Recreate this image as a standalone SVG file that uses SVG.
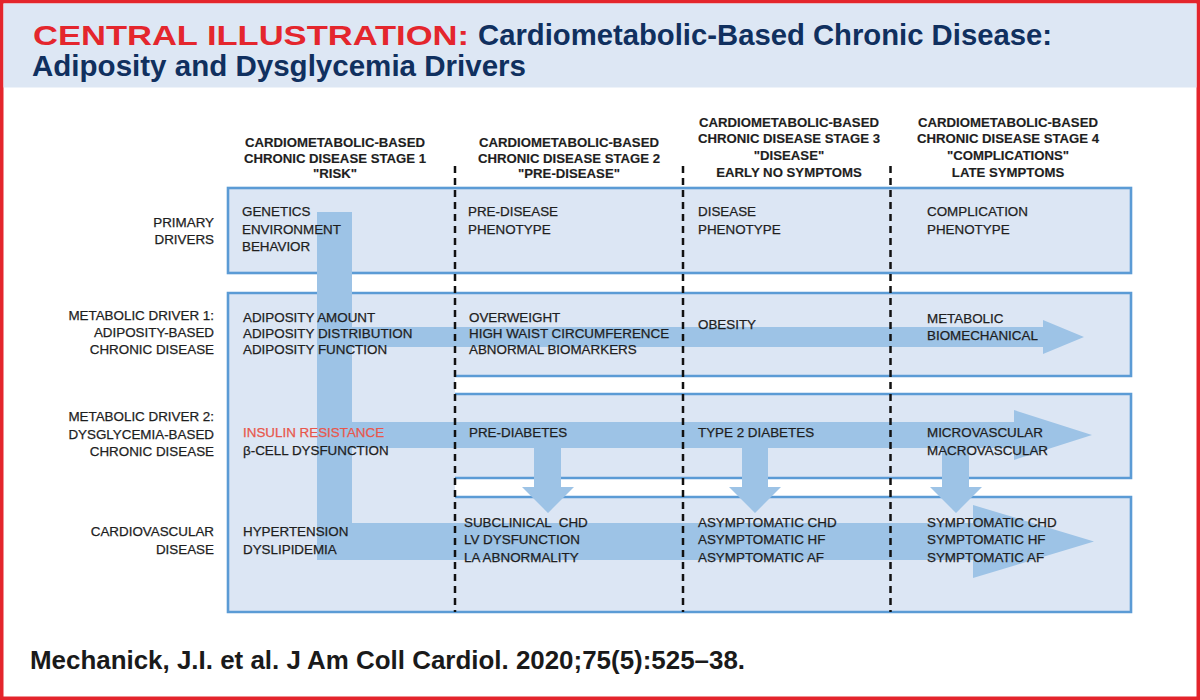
<svg xmlns="http://www.w3.org/2000/svg" width="1200" height="700" viewBox="0 0 1200 700">
  <defs>
    <style>
      .t { font-family: "Liberation Sans", Arial, sans-serif; font-size: 13.4px; fill: #1e1e1e; stroke: #1e1e1e; stroke-width: 0.25px; }
      .h { font-weight: bold; text-anchor: middle; font-size: 13.2px; stroke-width: 0.15px; }
      .side { text-anchor: end; }
      .red { fill: #e8574c; stroke: #e8574c; }
      .box { fill: #dce6f4; stroke: none; }
      .edge { fill: none; stroke: #5b9bd5; stroke-width: 2.6; }
      .arrow { fill: #9dc3e6; stroke: none; }
      .div { stroke: #111; stroke-width: 2.5; stroke-dasharray: 7 5; fill: none; }
      .ttl { font-family: "Liberation Sans", Arial, sans-serif; font-weight: bold; }
    </style>
  </defs>

  <!-- frame -->
  <rect x="1.75" y="1.75" width="1196.5" height="696.5" fill="#ffffff" stroke="#e4252c" stroke-width="3.5"/>

  <g id="title">
    <rect x="3.5" y="3.5" width="1193" height="84" fill="#dde7f4"/>
    <text class="ttl" x="33" y="45" font-size="28" fill="#e4262d" textLength="436" lengthAdjust="spacingAndGlyphs">CENTRAL ILLUSTRATION:</text>
    <text class="ttl" x="478" y="45" font-size="30" fill="#10305f" textLength="574" lengthAdjust="spacingAndGlyphs">Cardiometabolic-Based Chronic Disease:</text>
    <text class="ttl" x="32" y="75.5" font-size="30" fill="#10305f" textLength="494" lengthAdjust="spacingAndGlyphs">Adiposity and Dysglycemia Drivers</text>
  </g>

  <g id="stage-headers">
    <g id="stage-1">
      <text class="t h" x="335" y="146.7">CARDIOMETABOLIC-BASED</text>
      <text class="t h" x="335" y="162.5">CHRONIC DISEASE STAGE 1</text>
      <text class="t h" x="335" y="178">"RISK"</text>
    </g>
    <g id="stage-2">
      <text class="t h" x="569" y="146.7">CARDIOMETABOLIC-BASED</text>
      <text class="t h" x="569" y="162.5">CHRONIC DISEASE STAGE 2</text>
      <text class="t h" x="569" y="178">"PRE-DISEASE"</text>
    </g>
    <g id="stage-3">
      <text class="t h" x="789" y="126.5">CARDIOMETABOLIC-BASED</text>
      <text class="t h" x="789" y="143">CHRONIC DISEASE STAGE 3</text>
      <text class="t h" x="789" y="159.5">"DISEASE"</text>
      <text class="t h" x="789" y="176.5">EARLY NO SYMPTOMS</text>
    </g>
    <g id="stage-4">
      <text class="t h" x="1008" y="126.5">CARDIOMETABOLIC-BASED</text>
      <text class="t h" x="1008" y="143">CHRONIC DISEASE STAGE 4</text>
      <text class="t h" x="1008" y="159.5">"COMPLICATIONS"</text>
      <text class="t h" x="1008" y="176.5">LATE SYMPTOMS</text>
    </g>
  </g>

  <g id="row-labels">
    <g id="label-primary">
      <text class="t side" x="214" y="226.5">PRIMARY</text>
      <text class="t side" x="214" y="244">DRIVERS</text>
    </g>
    <g id="label-driver-1">
      <text class="t side" x="214" y="319.5">METABOLIC DRIVER 1:</text>
      <text class="t side" x="214" y="337">ADIPOSITY-BASED</text>
      <text class="t side" x="214" y="354">CHRONIC DISEASE</text>
    </g>
    <g id="label-driver-2">
      <text class="t side" x="214" y="420.5">METABOLIC DRIVER 2:</text>
      <text class="t side" x="214" y="438.5">DYSGLYCEMIA-BASED</text>
      <text class="t side" x="214" y="456">CHRONIC DISEASE</text>
    </g>
    <g id="label-cvd">
      <text class="t side" x="214" y="536">CARDIOVASCULAR</text>
      <text class="t side" x="214" y="554">DISEASE</text>
    </g>
  </g>

  <g id="boxes">
    <g id="box-primary">
      <rect class="box" x="228" y="188" width="903" height="85"/>
      <rect class="edge" x="228" y="188" width="903" height="85"/>
    </g>
    <g id="box-stage1-drivers">
      <rect class="box" x="228" y="293" width="227" height="319"/>
      <path class="edge" d="M455,293 H228 V612 H455"/>
    </g>
    <g id="box-adiposity">
      <rect class="box" x="455" y="293" width="676" height="83"/>
      <path class="edge" d="M455,293 H1131 V376 H455"/>
    </g>
    <g id="box-dysglycemia">
      <rect class="box" x="455" y="394" width="676" height="84"/>
      <path class="edge" d="M455,394 H1131 V478 H455"/>
    </g>
    <g id="box-cvd">
      <rect class="box" x="455" y="497" width="676" height="115"/>
      <path class="edge" d="M455,497 H1131 V612 H455"/>
    </g>
  </g>

  <g id="connectors">
    <path id="arrow-drivers-cvd" class="arrow" d="M317,212 H352 V523 H973 V505 L1094,541.5 L973,578 V560 H317 Z"/>
    <path id="arrow-adiposity" class="arrow" d="M340,327 H1043 V320 L1084,337 L1043,354 V347 H340 Z"/>
    <path id="arrow-dysglycemia" class="arrow" d="M340,422 H1014 V410 L1092,435 L1014,460 V448 H340 Z"/>
    <path id="arrow-down-1" class="arrow" d="M534,446 H561 V487 H574 L548,513 L522,487 H534 Z"/>
    <path id="arrow-down-2" class="arrow" d="M742,446 H768 V487 H781 L755,513 L729,487 H742 Z"/>
    <path id="arrow-down-3" class="arrow" d="M942,446 H969 V487 H982 L956,513 L930,487 H942 Z"/>
  </g>

  <g id="stage-dividers">
    <line class="div" x1="455" y1="166" x2="455" y2="612"/>
    <line class="div" x1="683" y1="166" x2="683" y2="612"/>
    <line class="div" x1="890.5" y1="166" x2="890.5" y2="612"/>
  </g>

  <g id="cells">
    <g id="cell-primary-1">
      <text class="t" x="242" y="216">GENETICS</text>
      <text class="t" x="242" y="233.5">ENVIRONMENT</text>
      <text class="t" x="242" y="251">BEHAVIOR</text>
    </g>
    <g id="cell-primary-2">
      <text class="t" x="468" y="216">PRE-DISEASE</text>
      <text class="t" x="468" y="233.5">PHENOTYPE</text>
    </g>
    <g id="cell-primary-3">
      <text class="t" x="698" y="216">DISEASE</text>
      <text class="t" x="698" y="233.5">PHENOTYPE</text>
    </g>
    <g id="cell-primary-4">
      <text class="t" x="927" y="216">COMPLICATION</text>
      <text class="t" x="927" y="233.5">PHENOTYPE</text>
    </g>

    <g id="cell-adiposity-1">
      <text class="t" x="243" y="322.3">ADIPOSITY AMOUNT</text>
      <text class="t" x="243" y="338.3">ADIPOSITY DISTRIBUTION</text>
      <text class="t" x="243" y="354.3">ADIPOSITY FUNCTION</text>
    </g>
    <g id="cell-adiposity-2">
      <text class="t" x="469" y="322.3">OVERWEIGHT</text>
      <text class="t" x="469" y="338.3">HIGH WAIST CIRCUMFERENCE</text>
      <text class="t" x="469" y="354.3">ABNORMAL BIOMARKERS</text>
    </g>
    <g id="cell-adiposity-3">
      <text class="t" x="698" y="329">OBESITY</text>
    </g>
    <g id="cell-adiposity-4">
      <text class="t" x="927" y="322.7">METABOLIC</text>
      <text class="t" x="927" y="340">BIOMECHANICAL</text>
    </g>

    <g id="cell-dysglycemia-1">
      <text class="t red" x="243" y="437">INSULIN RESISTANCE</text>
      <text class="t" x="243" y="454.5">β-CELL DYSFUNCTION</text>
    </g>
    <g id="cell-dysglycemia-2">
      <text class="t" x="469" y="437">PRE-DIABETES</text>
    </g>
    <g id="cell-dysglycemia-3">
      <text class="t" x="698" y="437">TYPE 2 DIABETES</text>
    </g>
    <g id="cell-dysglycemia-4">
      <text class="t" x="927" y="437">MICROVASCULAR</text>
      <text class="t" x="927" y="454.5">MACROVASCULAR</text>
    </g>

    <g id="cell-cvd-1">
      <text class="t" x="243" y="536">HYPERTENSION</text>
      <text class="t" x="243" y="554">DYSLIPIDEMIA</text>
    </g>
    <g id="cell-cvd-2">
      <text class="t" x="464" y="526.5" style="white-space:pre">SUBCLINICAL  CHD</text>
      <text class="t" x="464" y="544">LV DYSFUNCTION</text>
      <text class="t" x="464" y="561.5">LA ABNORMALITY</text>
    </g>
    <g id="cell-cvd-3">
      <text class="t" x="698" y="526.5">ASYMPTOMATIC CHD</text>
      <text class="t" x="698" y="544">ASYMPTOMATIC HF</text>
      <text class="t" x="698" y="561.5">ASYMPTOMATIC AF</text>
    </g>
    <g id="cell-cvd-4">
      <text class="t" x="927" y="526.5">SYMPTOMATIC CHD</text>
      <text class="t" x="927" y="544">SYMPTOMATIC HF</text>
      <text class="t" x="927" y="561.5">SYMPTOMATIC AF</text>
    </g>
  </g>

  <g id="citation">
    <text class="ttl" x="30" y="669" font-size="26" fill="#1a1a1a" textLength="715" lengthAdjust="spacingAndGlyphs">Mechanick, J.I. et al. J Am Coll Cardiol. 2020;75(5):525–38.</text>
  </g>
</svg>
